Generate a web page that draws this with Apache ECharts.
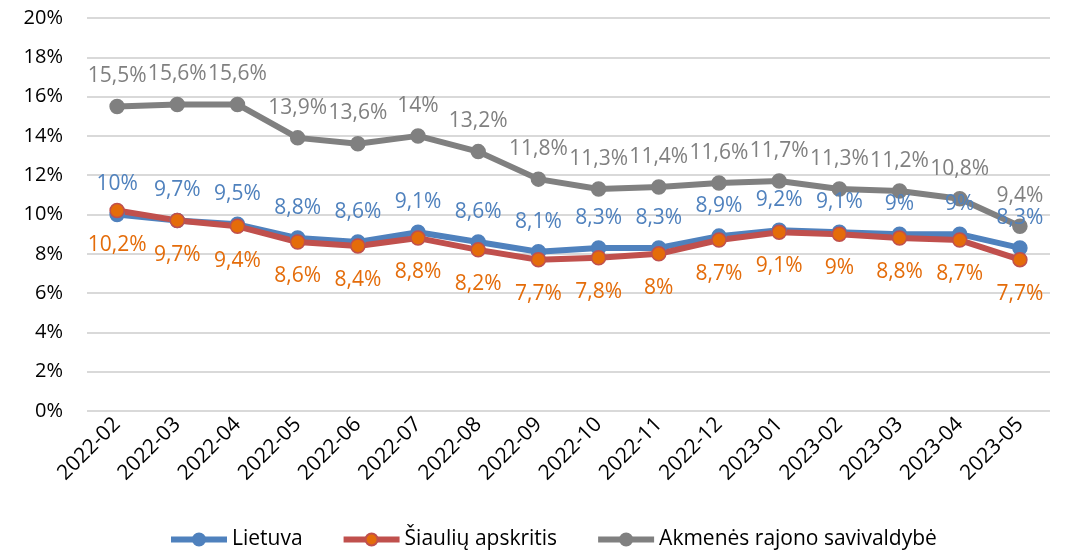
<!DOCTYPE html>
<html>
<head>
<meta charset="utf-8">
<script src="https://cdn.jsdelivr.net/npm/echarts@6/dist/echarts.min.js"></script>
<style>
  html, body { margin: 0; padding: 0; background: #fff; }
  #chart { width: 1071px; height: 555px; }
</style>
</head>
<body>
<div id="chart"></div>
<script>
var months = ['2022-02','2022-03','2022-04','2022-05','2022-06','2022-07','2022-08','2022-09','2022-10','2022-11','2022-12','2023-01','2023-02','2023-03','2023-04','2023-05'];
var lietuva = [10, 9.7, 9.5, 8.8, 8.6, 9.1, 8.6, 8.1, 8.3, 8.3, 8.9, 9.2, 9.1, 9, 9, 8.3];
var siauliai = [10.2, 9.7, 9.4, 8.6, 8.4, 8.8, 8.2, 7.7, 7.8, 8, 8.7, 9.1, 9, 8.8, 8.7, 7.7];
var akmene = [15.5, 15.6, 15.6, 13.9, 13.6, 14, 13.2, 11.8, 11.3, 11.4, 11.6, 11.7, 11.3, 11.2, 10.8, 9.4];

var FONT = '"Open Sans", "Noto Sans", sans-serif';

function pct(v){
	return String(v).replace('.', ',') + '%';
}

var chart = echarts.init(document.getElementById('chart'));

function lineSeries(name, data, lineColor, markColor, borderColor, labelColor, labelPos, dist){
	return {
		name: name,
		type: 'line',
		data: data,
		symbol: 'circle',
		symbolSize: 14,
		lineStyle: { color: lineColor, width: 6 },
		itemStyle: { color: markColor, borderColor: borderColor, borderWidth: 1.5 },
		label: {
			show: true,
			position: labelPos,
			distance: dist,
			color: labelColor,
			fontFamily: FONT,
			fontSize: 21,
			formatter: function(p){ return pct(p.value); }
		},
		emphasis: { disabled: true },
		animation: false
	};
}

var option = {
	backgroundColor: '#fff',
	color: ['#4F81BD', '#C0504D', '#808080'],
	grid: { left: 87, right: 21, top: 18, bottom: 144 },
	legend: {
		top: 524,
		left: 163,
		itemWidth: 56,
		itemHeight: 15,
		itemGap: 38,
		lineStyle: { width: 6 },
		textStyle: { fontFamily: FONT, fontSize: 21, color: '#000' },
		data: ['Lietuva', 'Šiaulių apskritis', 'Akmenės rajono savivaldybė']
	},
	xAxis: {
		type: 'category',
		data: months,
		boundaryGap: true,
		axisLine: { show: false },
		axisTick: { show: false },
		axisLabel: {
			rotate: 45,
			margin: 10,
			interval: 0,
			color: '#000',
			fontFamily: FONT,
			fontSize: 21
		}
	},
	yAxis: {
		type: 'value',
		min: 0,
		max: 20,
		interval: 2,
		axisLine: { show: false },
		axisTick: { show: false },
		splitLine: { lineStyle: { color: '#D9D9D9', width: 2 } },
		axisLabel: {
			margin: 24,
			color: '#000',
			fontFamily: FONT,
			fontSize: 20,
			formatter: '{value}%'
		}
	},
	series: [
		lineSeries('Lietuva', lietuva, '#4F81BD', '#4F81BD', '#4F81BD', '#4F81BD', 'top', 12),
		lineSeries('Šiaulių apskritis', siauliai, '#C0504D', '#E46C0A', '#C0504D', '#E46C0A', 'bottom', 16),
		lineSeries('Akmenės rajono savivaldybė', akmene, '#808080', '#808080', '#808080', '#808080', 'top', 12)
	]
};

chart.setOption(option);
</script>
</body>
</html>
